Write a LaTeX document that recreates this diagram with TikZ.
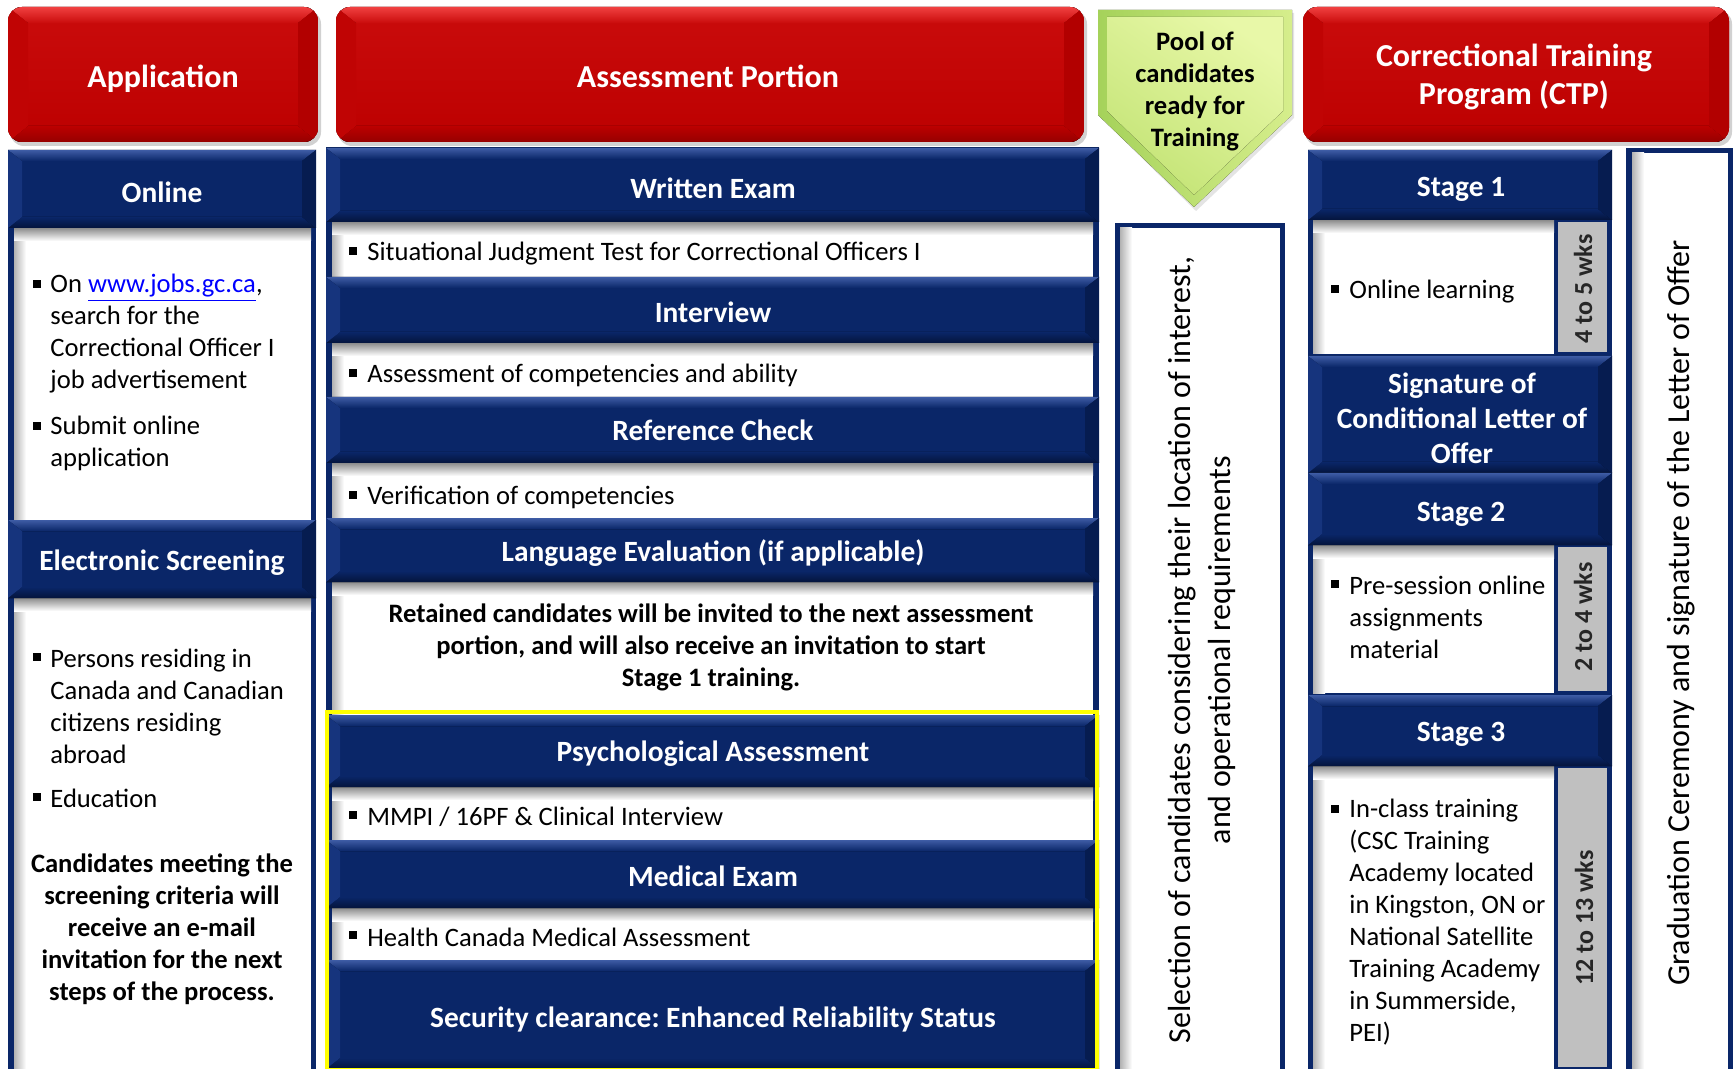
\documentclass[tikz,border=0pt]{standalone}
\usepackage{fontspec}
\setmainfont{Carlito}
\frenchspacing
\usetikzlibrary{calc}
\definecolor{navy}{RGB}{10,38,104}
\definecolor{navytop}{RGB}{62,92,165}
\definecolor{navydark}{RGB}{4,20,60}
\definecolor{navyleft}{RGB}{22,52,125}
\definecolor{navyright}{RGB}{6,28,80}
\definecolor{redmain}{RGB}{188,0,0}
\definecolor{redmid}{RGB}{202,12,12}
\definecolor{redtop}{RGB}{240,64,64}
\definecolor{reddark}{RGB}{150,0,0}
\definecolor{redleft}{RGB}{192,4,4}
\definecolor{redright}{RGB}{178,0,0}
\definecolor{graystrip}{RGB}{192,192,192}
\definecolor{greenA}{RGB}{232,248,168}
\definecolor{greenB}{RGB}{196,228,118}
\definecolor{greenL}{RGB}{165,210,90}
\definecolor{greenR}{RGB}{214,238,140}
\definecolor{linkblue}{RGB}{0,0,255}
\definecolor{yel}{RGB}{255,255,0}
\newcommand{\navyhead}[4]{%
  \fill[navy] (#1,#2) rectangle (#3,#4);
  \fill[top color=navytop, bottom color=navy] (#1,#2) -- (#3,#2) -- (#3-14,#2+11) -- (#1+14,#2+11) -- cycle;
  \fill[top color=navy, bottom color=navydark] (#1,#4) -- (#3,#4) -- (#3-14,#4-11) -- (#1+14,#4-11) -- cycle;
  \fill[navyleft] (#1,#2) -- (#1+14,#2+11) -- (#1+14,#4-11) -- (#1,#4) -- cycle;
  \fill[navyright] (#3,#2) -- (#3-14,#2+11) -- (#3-14,#4-11) -- (#3,#4) -- cycle;
}
\newcommand{\redhead}[4]{%
  \fill[black!40, opacity=0.45, rounded corners=7pt] (#1+2,#2+3) rectangle (#3+3,#4+4);
  \begin{scope}
    \clip[rounded corners=7pt] (#1,#2) rectangle (#3,#4);
    \fill[top color=redmid, bottom color=redmain] (#1,#2) rectangle (#3,#4);
    \fill[top color=redtop, bottom color=redmid] (#1,#2) -- (#3,#2) -- (#3-20,#2+16) -- (#1+20,#2+16) -- cycle;
    \fill[top color=redmain, bottom color=reddark] (#1,#4) -- (#3,#4) -- (#3-20,#4-16) -- (#1+20,#4-16) -- cycle;
    \fill[redleft] (#1,#2) -- (#1+20,#2+16) -- (#1+20,#4-16) -- (#1,#4) -- cycle;
    \fill[redright] (#3,#2) -- (#3-20,#2+16) -- (#3-20,#4-16) -- (#3,#4) -- cycle;
  \end{scope}
}
\newcommand{\hshadow}[3]{\fill[top color=black!45, bottom color=white] (#1,#3) rectangle (#2,#3+13);}
\newcommand{\lshadow}[3]{\fill[left color=black!30, right color=white] (#1,#2) rectangle (#1+12,#3);}
\tikzset{
  body/.style={font=\fontsize{13.3}{16}\selectfont, inner sep=0pt, align=left},
  hdr/.style={font=\bfseries\fontsize{14.7}{17.5}\selectfont, text=white, inner sep=0pt, align=center},
  redtxt/.style={font=\bfseries\fontsize{16}{19}\selectfont, text=white, inner sep=0pt, align=center},
  boldtxt/.style={font=\bfseries\fontsize{13.3}{16}\selectfont, inner sep=0pt, align=center},
  rottxt/.style={font=\fontsize{16}{20}\selectfont, rotate=90, inner sep=0pt, align=center},
  wks/.style={font=\bfseries\fontsize{13}{15}\selectfont, rotate=90, inner sep=0pt, text=black!85},
  bul/.style={fill=black, minimum size=4pt, inner sep=0pt}
}
\begin{document}
\begin{tikzpicture}[x=0.5pt,y=-0.5pt]
\useasboundingbox (0,0) rectangle (1735,1069);
\fill[white] (0,0) rectangle (1735,1069);

% red headers
\redhead{8}{7}{318}{142}
\redhead{336}{7}{1084}{142}
\redhead{1303}{7}{1729}{142}

% column frames
\fill[navy] (8,150) rectangle (316,1069);
\fill[white] (14,228) rectangle (311,520);
\fill[white] (14,598) rectangle (311,1069);

\fill[navy] (326,147) rectangle (1099,1069);
\foreach \a/\b in {222/277,343/397,463/518,582/715,787/840,908/960}{
  \fill[white] (332,\a) rectangle (1093,\b);}

\fill[navy] (1115,223) rectangle (1285,1069);
\fill[white] (1120,228) rectangle (1280,1069);

\fill[navy] (1308,150) rectangle (1612,1069);
\foreach \a/\b in {220/354,545/693,766/1069}{
  \fill[white] (1313,\a) rectangle (1554,\b);
  \fill[graystrip] (1558,\a+2) rectangle (1607,\b-2);
}

\fill[navy] (1626,148) rectangle (1733,1069);
\fill[white] (1632,153) rectangle (1728,1069);

% inner shadows
\lshadow{14}{228}{520}
\lshadow{14}{598}{1069}
\foreach \a/\b in {222/277,343/397,463/518,582/715,787/840,908/960}{\lshadow{332}{\a}{\b}}
\lshadow{1120}{228}{1069}
\lshadow{1632}{153}{1069}
\foreach \a/\b in {220/354,545/693,766/1069}{\lshadow{1313}{\a}{\b}}

\hshadow{14}{311}{228}
\hshadow{14}{311}{598}
\foreach \a in {222,343,463,582,787,908}{\hshadow{332}{1093}{\a}}
\foreach \a in {220,545,766}{\hshadow{1313}{1554}{\a}}

% navy headers
\navyhead{8}{150}{316}{228}
\navyhead{8}{520}{316}{598}
\navyhead{326}{148}{1099}{222}
\navyhead{326}{277}{1099}{343}
\navyhead{326}{397}{1099}{463}
\navyhead{326}{518}{1099}{582}
\navyhead{326}{715}{1099}{787}
\navyhead{326}{840}{1099}{908}
\navyhead{326}{960}{1099}{1069}
\navyhead{1308}{150}{1612}{220}
\navyhead{1308}{356}{1612}{473}
\navyhead{1308}{473}{1612}{545}
\navyhead{1308}{695}{1612}{766}

% yellow frame
\draw[yel, line width=1.6pt] (327,712) rectangle (1097,1070);

% pool arrow
\fill[black!30, opacity=0.35] (1101,13) -- (1294,13) -- (1294,118) -- (1196,211) -- (1101,118) -- cycle;
\fill[left color=greenL, right color=greenR] (1098,10) -- (1292,10) -- (1292,115) -- (1194,207) -- (1098,115) -- cycle;
\fill[top color=greenA, bottom color=greenB, shading angle=-35] (1107,17) -- (1283,17) -- (1283,111) -- (1194,195) -- (1107,111) -- cycle;

% texts: red headers
\node[redtxt] (app) at (163,79) {Application};
\node[redtxt] (asp) at (708,76) {Assessment Portion};
\node[redtxt] (ctp) at (1514,77) {Correctional Training\\Program (CTP)};
\node[boldtxt] (pool) at (1195,91) {Pool of\\candidates\\ready for\\Training};

% left column
\node[hdr] (onl) at (162,192) {Online};
\node[bul] (b1) at (37,284) {};
\node[body, anchor=west] (on1) at (50,334) {On \textcolor{linkblue}{\underline{www.jobs.gc.ca}},\\search for the\\Correctional Officer I\\job advertisement};
\node[bul] (b2) at (37,426) {};
\node[body, anchor=west] (on2) at (50,443) {Submit online\\application};
\node[hdr] (esc) at (162,563) {Electronic Screening};
\node[bul] (b3) at (37,657) {};
\node[body, anchor=west] (es1) at (50,706) {Persons residing in\\Canada and Canadian\\citizens residing\\abroad};
\node[bul] (b4) at (37,797) {};
\node[body, anchor=west] (es2) at (50,798) {Education};
\node[boldtxt] (es3) at (162,929) {Candidates meeting the\\screening criteria will\\receive an e-mail\\invitation for the next\\steps of the process.};

% middle column
\node[hdr] (we) at (713,188) {Written Exam};
\node[bul] (b5) at (353,251) {};
\node[body, anchor=west] (sj) at (367,254) {Situational Judgment Test for Correctional Officers I};
\node[hdr] (iv) at (713,312) {Interview};
\node[bul] (b6) at (353,373) {};
\node[body, anchor=west] (ac) at (367,375) {Assessment of competencies and ability};
\node[hdr] (rc) at (713,430) {Reference Check};
\node[bul] (b7) at (353,495) {};
\node[body, anchor=west] (vc) at (367,497) {Verification of competencies};
\node[hdr] (le) at (713,553) {Language Evaluation (if applicable)};
\node[boldtxt] (rt) at (711,647) {Retained candidates will be invited to the next assessment\\portion, and will also receive an invitation to start\\Stage 1 training.};
\node[hdr] (pa) at (713,754) {Psychological Assessment};
\node[bul] (b8) at (353,815) {};
\node[body, anchor=west] (mm) at (367,817) {MMPI / 16PF \& Clinical Interview};
\node[hdr] (me) at (713,876) {Medical Exam};
\node[bul] (b9) at (353,935) {};
\node[body, anchor=west] (hc) at (367,937) {Health Canada Medical Assessment};
\node[hdr] (sc) at (713,1019) {Security clearance: Enhanced Reliability Status};

% selection column
\node[rottxt] (sel) at (1202,650) {Selection of candidates considering their location of interest,\\and operational requirements};

% stage column
\node[hdr] (s1) at (1461,189) {Stage 1};
\node[bul] (b10) at (1335,289) {};
\node[body, anchor=west] (ol) at (1349,292) {Online learning};
\node[wks] (w1) at (1583,289) {4 to 5 wks};
\node[hdr] (sig) at (1462,418) {Signature of\\Conditional Letter of\\Offer};
\node[hdr] (s2) at (1461,514) {Stage 2};
\node[bul] (b11) at (1335,584) {};
\node[body, anchor=west] (ps) at (1349,617) {Pre-session online\\assignments\\material};
\node[wks] (w2) at (1583,617) {2 to 4 wks};
\node[hdr] (s3) at (1461,734) {Stage 3};
\node[bul] (b12) at (1335,809) {};
\node[body, anchor=west] (ic) at (1349,922) {In-class training\\(CSC Training\\Academy located\\in Kingston, ON or\\National Satellite\\Training Academy\\in Summerside,\\PEI)};
\node[wks] (w3) at (1584,918) {12 to 13 wks};

% graduation column
\node[rottxt] (grad) at (1681,613) {Graduation Ceremony and signature of the Letter of Offer};
\end{tikzpicture}
\end{document}
